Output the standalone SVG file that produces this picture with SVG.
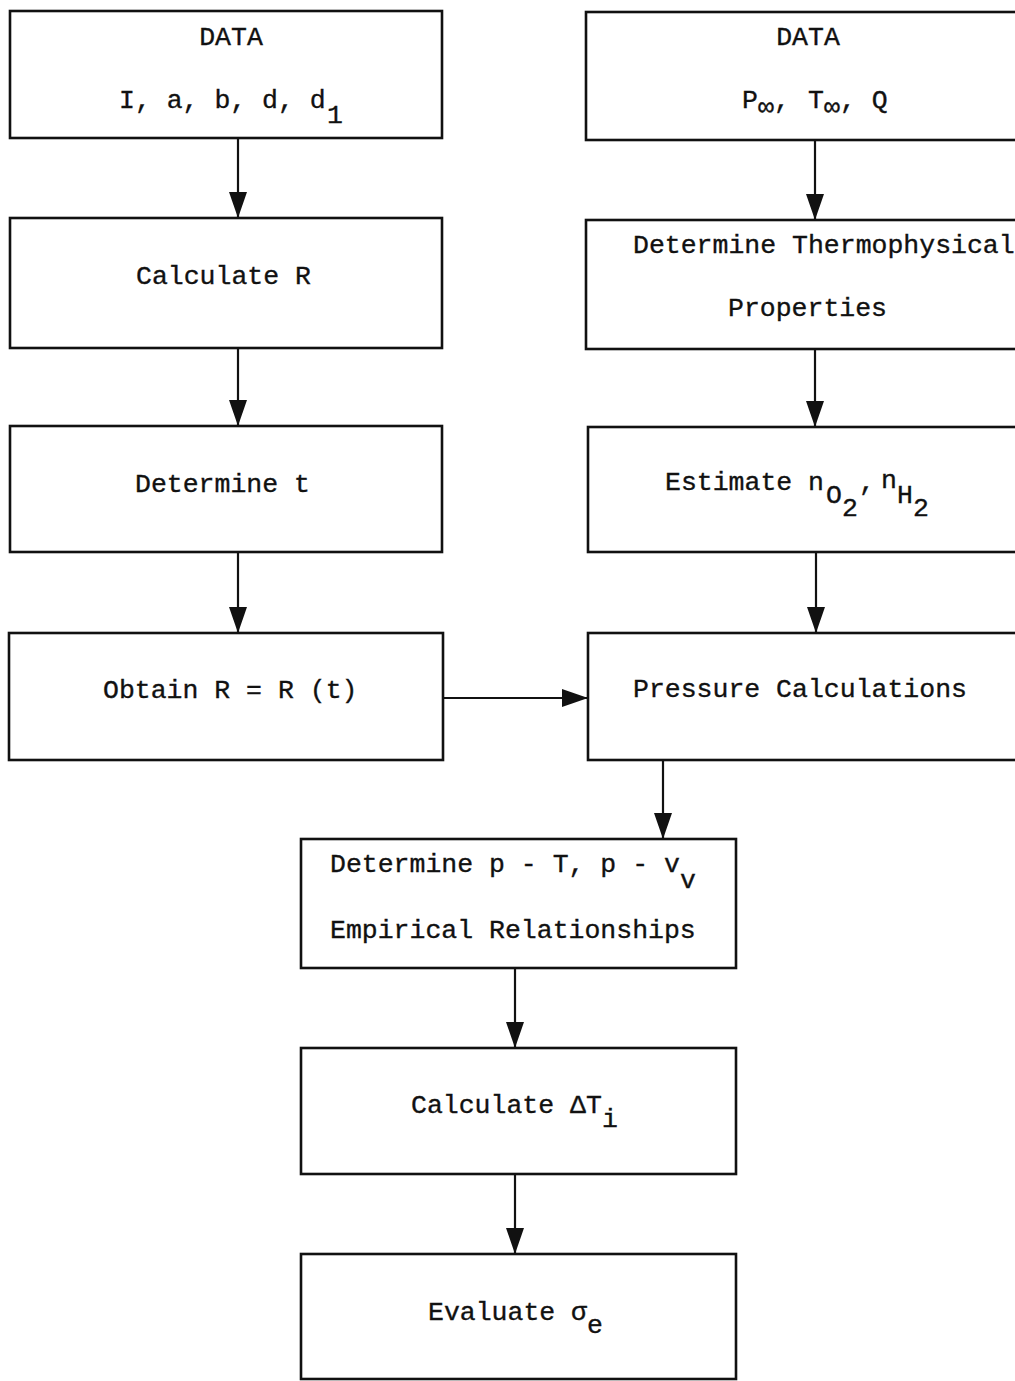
<svg xmlns="http://www.w3.org/2000/svg" width="1015" height="1381" viewBox="0 0 1015 1381">
<style>
.box{fill:none;stroke:#111;stroke-width:2.6}
.t{font-family:"Liberation Mono","DejaVu Sans Mono",monospace;font-size:26.5px;fill:#111;stroke:#111;stroke-width:0.35}
.c{stroke:#111;stroke-width:2.2;fill:none}
</style>
<defs>
<marker id="ah" markerUnits="userSpaceOnUse" markerWidth="28" markerHeight="20" refX="26" refY="10" orient="auto">
<polygon points="0,1 26,10 0,19" fill="#111"/>
</marker>
</defs>
<rect width="1015" height="1381" fill="#fff"/>
<g id="connectors">
<line class="c" x1="238" y1="138" x2="238" y2="218" marker-end="url(#ah)"/>
<line class="c" x1="238" y1="348" x2="238" y2="426" marker-end="url(#ah)"/>
<line class="c" x1="238" y1="552" x2="238" y2="633" marker-end="url(#ah)"/>
<line class="c" x1="815" y1="140" x2="815" y2="220" marker-end="url(#ah)"/>
<line class="c" x1="815" y1="349" x2="815" y2="427" marker-end="url(#ah)"/>
<line class="c" x1="816" y1="552" x2="816" y2="633" marker-end="url(#ah)"/>
<line class="c" x1="443" y1="698" x2="588" y2="698" marker-end="url(#ah)"/>
<line class="c" x1="663" y1="760" x2="663" y2="839" marker-end="url(#ah)"/>
<line class="c" x1="515" y1="968" x2="515" y2="1048" marker-end="url(#ah)"/>
<line class="c" x1="515" y1="1174" x2="515" y2="1254" marker-end="url(#ah)"/>
</g>
<g id="data-left">
<rect class="box" x="10" y="11" width="432" height="127"/>
<text class="t" x="231" y="45" text-anchor="middle">DATA</text>
<text class="t" x="119" y="108">I, a, b, d, d</text>
<text class="t" x="327" y="123">1</text>
</g>
<g id="data-right">
<rect class="box" x="586" y="12" width="440" height="128"/>
<text class="t" x="808" y="45" text-anchor="middle">DATA</text>
<text class="t" x="742" y="108">P</text>
<text class="t" x="758" y="115">∞</text>
<text class="t" x="774" y="108">,</text>
<text class="t" x="808" y="108">T</text>
<text class="t" x="824" y="115">∞</text>
<text class="t" x="840" y="108">, Q</text>
</g>
<g id="calc-r">
<rect class="box" x="10" y="218" width="432" height="130"/>
<text class="t" x="136" y="284">Calculate R</text>
</g>
<g id="thermo">
<rect class="box" x="586" y="220" width="440" height="129"/>
<text class="t" x="633" y="253">Determine Thermophysical</text>
<text class="t" x="728" y="316">Properties</text>
</g>
<g id="det-t">
<rect class="box" x="10" y="426" width="432" height="126"/>
<text class="t" x="135" y="492">Determine t</text>
</g>
<g id="estimate">
<rect class="box" x="588" y="427" width="440" height="125"/>
<text class="t" x="665" y="490">Estimate n</text>
<text class="t" x="826" y="503">O</text>
<text class="t" x="842" y="516">2</text>
<text class="t" x="859" y="490">,</text>
<text class="t" x="881" y="488">n</text>
<text class="t" x="897" y="503">H</text>
<text class="t" x="913" y="516">2</text>
</g>
<g id="obtain">
<rect class="box" x="9" y="633" width="434" height="127"/>
<text class="t" x="103" y="698">Obtain R = R (t)</text>
</g>
<g id="pressure">
<rect class="box" x="588" y="633" width="440" height="127"/>
<text class="t" x="633" y="697">Pressure Calculations</text>
</g>
<g id="empirical">
<rect class="box" x="301" y="839" width="435" height="129"/>
<text class="t" x="330" y="872">Determine p - T, p - v</text>
<text class="t" x="680" y="888">v</text>
<text class="t" x="330" y="938">Empirical Relationships</text>
</g>
<g id="delta-t">
<rect class="box" x="301" y="1048" width="435" height="126"/>
<text class="t" x="411" y="1113">Calculate ΔT</text>
<text class="t" x="602" y="1127">i</text>
</g>
<g id="evaluate">
<rect class="box" x="301" y="1254" width="435" height="125"/>
<text class="t" x="428" y="1320">Evaluate σ</text>
<text class="t" x="587" y="1333">e</text>
</g>
</svg>
